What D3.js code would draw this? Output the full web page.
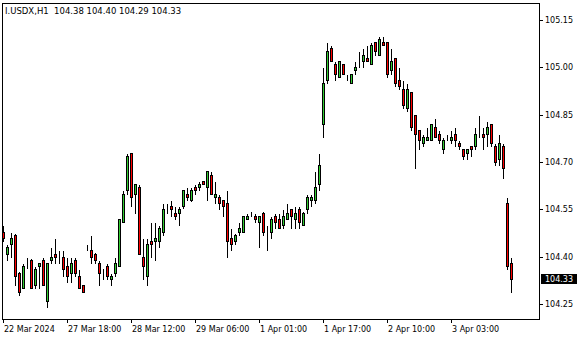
<!DOCTYPE html>
<html>
<head>
<meta charset="utf-8">
<script src="https://cdnjs.cloudflare.com/ajax/libs/d3/7.8.5/d3.min.js"></script>
<style>
  body { margin: 0; background: #fff; }
  svg { display: block; }
  text { font-family: "DejaVu Sans", Verdana, sans-serif; }
</style>
</head>
<body>
<script>
// hourly I.USDX candles
const open = [104.48,104.41,104.44,104.47,104.35,104.30,104.38,104.39,104.31,104.37,104.39,104.26,104.39,104.41,104.39,104.40,
  104.37,104.35,104.39,104.34,104.31,104.43,104.42,104.41,104.38,104.36,104.37,104.33,104.35,104.37,104.51,104.61,
  104.73,104.60,104.62,104.40,104.34,104.45,104.45,104.45,104.48,104.54,104.56,104.54,104.54,104.56,104.60,104.58,
  104.62,104.62,104.64,104.62,104.66,104.59,104.59,104.58,104.57,104.46,104.45,104.48,104.48,104.52,104.54,104.53,
  104.51,104.54,104.49,104.48,104.53,104.52,104.50,104.52,104.55,104.52,104.55,104.50,104.55,104.58,104.58,104.63,
  104.82,104.96,105.06,105.01,104.97,105.01,104.97,104.95,104.99,105.01,105.02,105.03,105.01,105.08,105.04,105.08,
  105.08,104.99,105.03,104.96,104.93,104.87,104.92,104.85,104.80,104.76,104.77,104.77,104.81,104.79,104.74,104.78,
  104.77,104.79,104.76,104.74,104.73,104.75,104.75,104.80,104.79,104.79,104.82,104.75,104.71,104.75,104.57,104.38];
const high = [104.50,104.44,104.48,104.475,104.355,104.38,104.40,104.395,104.37,104.385,104.40,104.38,104.43,104.46,104.42,104.42,
  104.40,104.40,104.40,104.36,104.315,104.44,104.47,104.415,104.39,104.365,104.38,104.35,104.40,104.52,104.61,104.73,
  104.73,104.635,104.63,104.46,104.46,104.51,104.51,104.50,104.57,104.57,104.58,104.56,104.56,104.615,104.62,104.62,
  104.63,104.64,104.64,104.67,104.67,104.64,104.60,104.58,104.61,104.49,104.475,104.51,104.53,104.54,104.545,104.54,
  104.53,104.545,104.50,104.53,104.54,104.54,104.55,104.57,104.555,104.56,104.56,104.545,104.60,104.60,104.67,104.73,
  105.00,105.08,105.07,105.02,105.02,105.01,104.98,104.98,105.02,105.05,105.06,105.07,105.08,105.08,105.10,105.10,
  105.08,105.06,105.03,105.00,104.96,104.95,104.925,104.85,104.80,104.79,104.81,104.82,104.84,104.80,104.78,104.79,
  104.80,104.81,104.77,104.74,104.74,104.75,104.81,104.85,104.81,104.83,104.825,104.76,104.79,104.76,104.59,104.40];
const low = [104.45,104.39,104.40,104.31,104.28,104.30,104.365,104.30,104.30,104.30,104.31,104.24,104.38,104.38,104.38,104.34,
  104.32,104.32,104.34,104.30,104.29,104.42,104.38,104.38,104.31,104.33,104.33,104.31,104.34,104.37,104.51,104.60,
  104.56,104.54,104.41,104.33,104.31,104.40,104.39,104.43,104.47,104.54,104.53,104.52,104.50,104.555,104.58,104.575,
  104.60,104.61,104.63,104.58,104.60,104.57,104.55,104.53,104.40,104.42,104.44,104.47,104.48,104.52,104.53,104.51,
  104.43,104.47,104.42,104.46,104.49,104.49,104.49,104.52,104.49,104.49,104.49,104.50,104.54,104.56,104.57,104.61,
  104.78,104.95,105.02,104.96,104.97,104.98,104.96,104.95,104.98,105.00,105.00,105.02,105.01,105.04,105.04,105.07,
  104.97,104.98,104.94,104.93,104.87,104.86,104.80,104.68,104.74,104.75,104.77,104.77,104.78,104.76,104.73,104.77,
  104.76,104.75,104.74,104.71,104.71,104.72,104.74,104.78,104.74,104.75,104.75,104.69,104.69,104.65,104.36,104.29];
const close = [104.46,104.43,104.46,104.34,104.29,104.37,104.38,104.30,104.36,104.38,104.31,104.38,104.40,104.40,104.39,104.36,
  104.34,104.38,104.35,104.30,104.29,104.43,104.40,104.39,104.35,104.36,104.34,104.34,104.38,104.52,104.60,104.72,
  104.59,104.63,104.41,104.37,104.44,104.44,104.46,104.49,104.55,104.54,104.55,104.53,104.55,104.61,104.59,104.61,
  104.61,104.63,104.63,104.67,104.60,104.60,104.57,104.56,104.45,104.44,104.47,104.49,104.53,104.53,104.54,104.52,
  104.53,104.48,104.49,104.52,104.51,104.49,104.53,104.54,104.53,104.54,104.51,104.54,104.59,104.59,104.62,104.69,
  104.95,105.05,105.02,104.98,105.02,104.98,104.97,104.98,105.00,105.01,105.04,105.02,105.07,105.05,105.09,105.07,
  104.98,105.02,104.95,104.94,104.88,104.93,104.81,104.79,104.77,104.78,104.78,104.82,104.78,104.77,104.77,104.78,
  104.78,104.77,104.75,104.72,104.74,104.74,104.79,104.80,104.78,104.81,104.76,104.70,104.76,104.68,104.37,104.33];

const priceTicks = [104.25, 104.40, 104.55, 104.70, 104.85, 105.00, 105.15];
const timeTickBars = [0, 16, 32, 48, 64, 80, 96, 112];
const timeLabels = ["22 Mar 2024", "27 Mar 18:00", "28 Mar 12:00", "29 Mar 06:00",
  "1 Apr 01:00", "1 Apr 17:00", "2 Apr 10:00", "3 Apr 03:00"];
const symbol = "I.USDX,H1";

const width = 580, height = 340;
const plotLeft = 2, plotTop = 3, plotRight = 539, plotBottom = 319;
const barStep = 4;
const bullColor = "#32cd32", bearColor = "#ff0000";

const n = open.length;
const bars = open.map((o, i) => ({ i: i, o: o, h: high[i], l: low[i], c: close[i] }));

const x = d3.scaleLinear().domain([0, n - 1]).range([plotLeft + 1, plotLeft + 1 + barStep * (n - 1)]);
const y = d3.scaleLinear().domain([104.25, 105.15]).range([304.2, 19.8]).interpolate(d3.interpolateRound);

const svg = d3.select("body").append("svg")
  .attr("width", width).attr("height", height)
  .attr("shape-rendering", "crispEdges");

// frame
svg.append("rect")
  .attr("x", plotLeft + 0.5).attr("y", plotTop + 0.5)
  .attr("width", plotRight - plotLeft).attr("height", plotBottom - plotTop)
  .attr("fill", "none").attr("stroke", "#000");

// candles
const g = svg.append("g");
g.selectAll("line.wick")
  .data(bars)
  .enter()
  .append("line")
  .attr("class", "wick")
  .attr("x1", d => x(d.i) + 0.5).attr("x2", d => x(d.i) + 0.5)
  .attr("y1", d => y(d.h) + 0.5).attr("y2", d => y(d.l) + 0.5)
  .attr("stroke", "#000");

g.selectAll("rect.body")
  .data(bars)
  .enter()
  .append("rect")
  .attr("class", "body")
  .attr("x", d => x(d.i) - 0.5)
  .attr("width", 2)
  .attr("y", d => y(Math.max(d.o, d.c)) + 0.5)
  .attr("height", d => y(Math.min(d.o, d.c)) - y(Math.max(d.o, d.c)))
  .attr("fill", d => d.c >= d.o ? bullColor : bearColor)
  .attr("stroke", "#000");

// price axis
const yAxis = svg.append("g")
  .attr("transform", "translate(" + plotRight + ",0)")
  .call(d3.axisRight(y).tickValues(priceTicks).tickSize(4).tickPadding(2).tickFormat(d3.format(".2f")));
yAxis.select(".domain").remove();
yAxis.selectAll("text").attr("font-size", 8).attr("font-family", "DejaVu Sans").attr("fill", "#000");

// time axis
const xAxis = svg.append("g")
  .attr("transform", "translate(0," + plotBottom + ")")
  .call(d3.axisBottom(x).tickValues(timeTickBars).tickSize(4).tickFormat((d, i) => timeLabels[i]));
xAxis.select(".domain").remove();
xAxis.selectAll("text")
  .attr("font-size", 8).attr("font-family", "DejaVu Sans").attr("fill", "#000")
  .attr("text-anchor", "start").attr("x", 0.5);

// current price marker
const last = bars[n - 1];
svg.append("rect")
  .attr("x", plotRight + 2).attr("y", y(last.c) - 5)
  .attr("width", 36).attr("height", 10)
  .attr("fill", "#000");
svg.append("text")
  .attr("x", plotRight + 6).attr("y", y(last.c) + 0.5)
  .attr("dy", "0.32em")
  .attr("font-size", 8).attr("fill", "#fff")
  .text(d3.format(".2f")(last.c));

// header
svg.append("text")
  .attr("x", 5).attr("y", 14)
  .attr("font-size", 8.5).attr("fill", "#000")
  .style("white-space", "pre")
  .text(symbol + "  " + [last.o, last.h, last.l, last.c].map(d3.format(".2f")).join(" "));
</script>
</body>
</html>
